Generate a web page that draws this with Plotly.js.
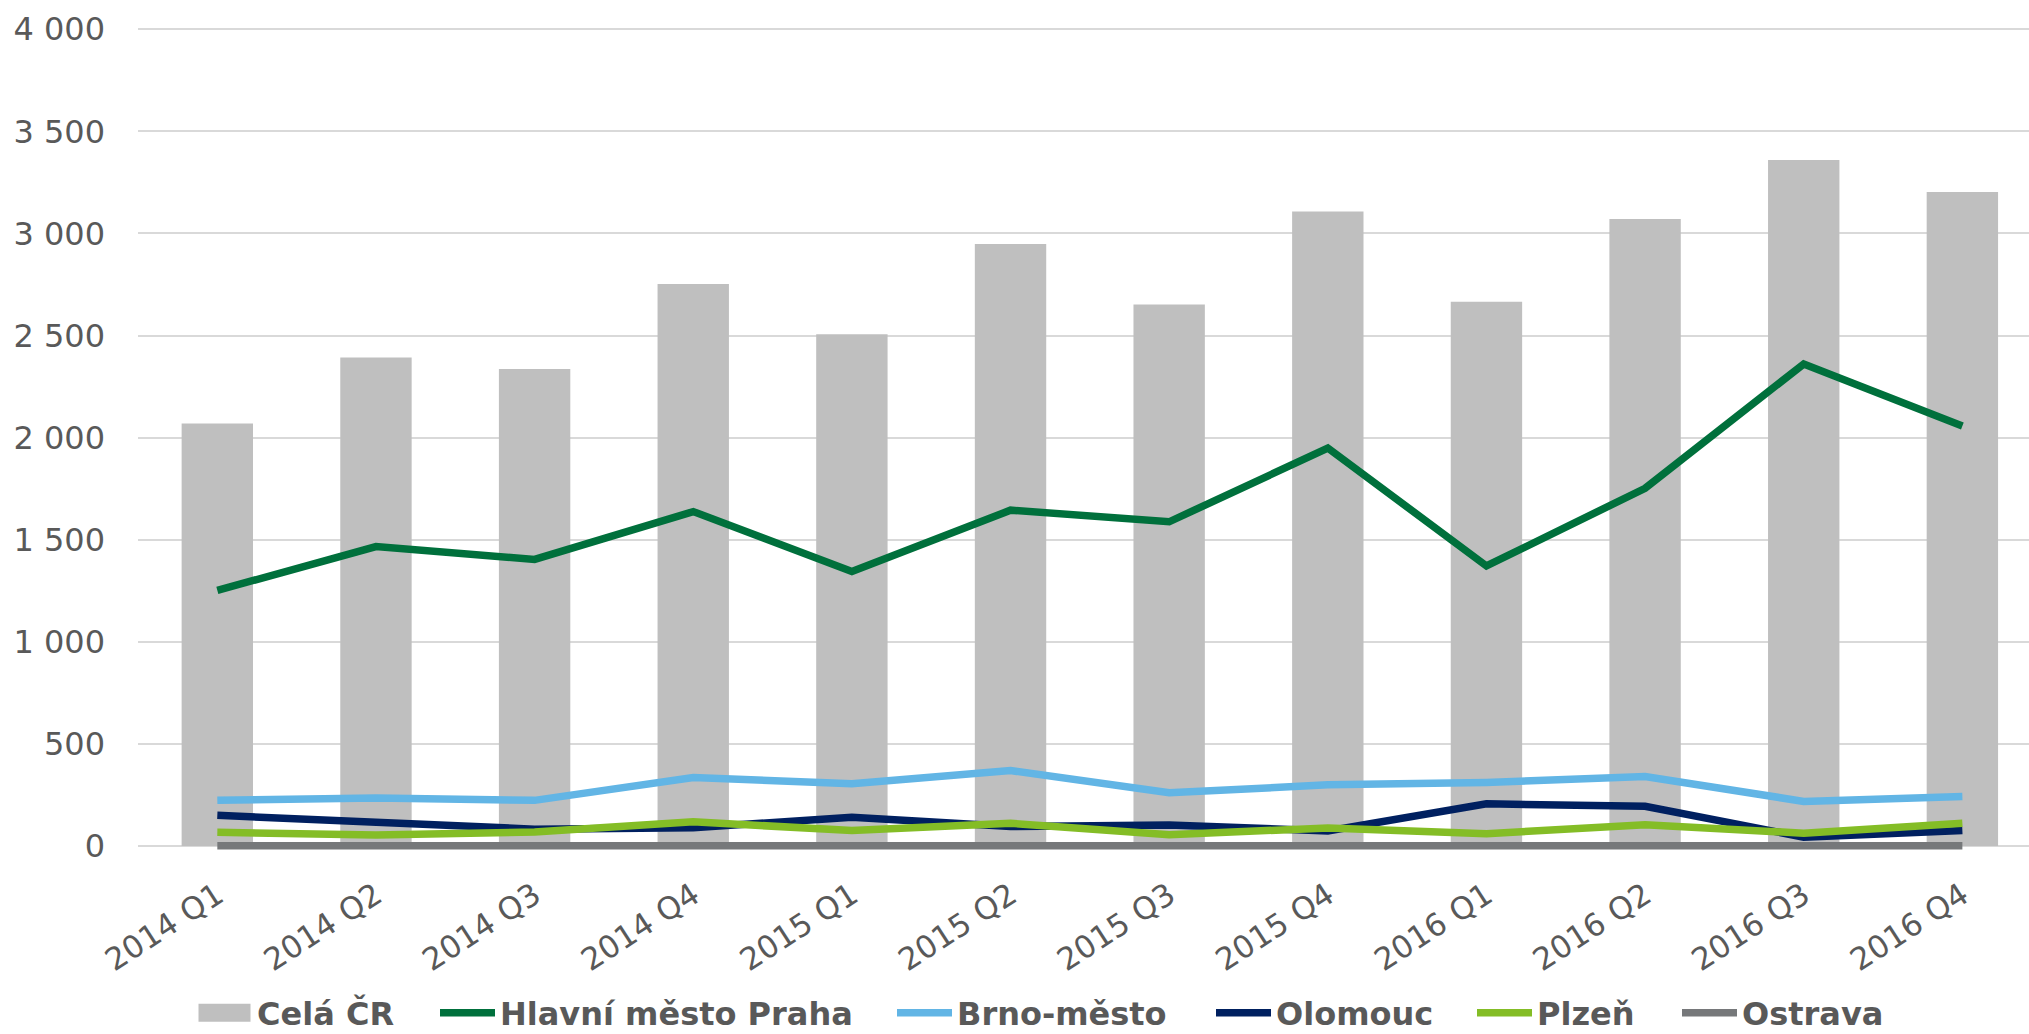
<!DOCTYPE html>
<html>
<head>
<meta charset="utf-8">
<script src="https://cdn.plot.ly/plotly-3.0.1.min.js"></script>
<style>
  html, body { margin: 0; padding: 0; background: #ffffff; }
  #chart { width: 2029px; height: 1034px; }
</style>
</head>
<body>
<div id="chart"></div>
<script>
// Quarterly counts, 2014–2016
const quarters = ['2014 Q1', '2014 Q2', '2014 Q3', '2014 Q4',
                  '2015 Q1', '2015 Q2', '2015 Q3', '2015 Q4',
                  '2016 Q1', '2016 Q2', '2016 Q3', '2016 Q4'];

const celaCR  = [2070, 2393, 2336, 2752, 2507, 2948, 2652, 3108, 2665, 3071, 3360, 3203];
const praha   = [1252, 1467, 1404, 1638, 1345, 1645, 1588, 1949, 1372, 1752, 2361, 2057];
const brno    = [ 224,  236,  224,  336,  306,  370,  261,  300,  312,  341,  219,  243];
const olomouc = [ 151,  117,   83,   90,  141,   96,  104,   74,  207,  195,   44,   77];
const plzen   = [  68,   54,   69,  119,   76,  112,   56,   89,   61,  105,   63,  112];
const ostrava = [   2,    2,    2,    2,    2,    2,    2,    2,    2,    2,    2,    2];

const seriesNames  = ['Celá ČR', 'Hlavní město Praha', 'Brno-město', 'Olomouc', 'Plzeň', 'Ostrava'];
const seriesColors = ['#BFBFBF', '#00703C', '#62B5E5', '#002060', '#84BD26', '#76787A'];

const FONT = 'DejaVu Sans, Verdana, sans-serif';
const TEXT = '#595959';

// Plot box in pixels, used to place the legend entries in paper units
const M = { l: 138, r: 0, t: 28, b: 184 };
const W = 2029, H = 1034;
const plotW = W - M.l - M.r;
const plotH = H - M.t - M.b;
const px2x = px => (px - M.l) / plotW;
const py2y = py => (H - M.b - py) / plotH;

// left edge of each legend entry along the bottom row
const legendLeft = [192, 435, 892, 1211, 1472, 1677];
const legendMidY = 1013;

const lineData = [praha, brno, olomouc, plzen, ostrava];
const legendIds = ['legend', 'legend2', 'legend3', 'legend4', 'legend5', 'legend6'];

const traces = [{
  type: 'bar',
  name: seriesNames[0],
  x: quarters,
  y: celaCR,
  marker: { color: seriesColors[0] },
  legend: legendIds[0],
  hoverinfo: 'skip'
}].concat(lineData.map((vals, i) => ({
  type: 'scatter',
  mode: 'lines',
  name: seriesNames[i + 1],
  x: quarters,
  y: vals,
  line: { color: seriesColors[i + 1], width: 7.5 },
  legend: legendIds[i + 1],
  hoverinfo: 'skip'
})));

const layout = {
  width: W,
  height: H,
  margin: { l: M.l, r: M.r, t: M.t, b: M.b, autoexpand: false },
  paper_bgcolor: '#ffffff',
  plot_bgcolor: '#ffffff',
  separators: ', ',
  bargap: 0.55,
  showlegend: true,
  font: { family: FONT, color: TEXT, size: 30 },
  xaxis: {
    type: 'category',
    range: [-0.5, 11.42],
    showgrid: false,
    zeroline: false,
    showline: false,
    ticks: 'outside',
    ticklen: 14,
    tickcolor: 'rgba(0,0,0,0)',
    tickangle: -33,
    automargin: false,
    tickfont: { family: FONT, size: 31, color: TEXT }
  },
  yaxis: {
    // a little room below zero keeps the full width of lines lying on the baseline
    range: [-19, 4006],
    tickvals: [0, 500, 1000, 1500, 2000, 2500, 3000, 3500, 4000],
    tickformat: ',d',
    separatethousands: true,
    showgrid: true,
    gridcolor: '#D9D9D9',
    gridwidth: 2,
    zeroline: false,
    showline: false,
    ticks: '',
    ticklabelstandoff: 32,
    automargin: false,
    tickfont: { family: FONT, size: 32, color: TEXT }
  }
};

legendIds.forEach((id, i) => {
  layout[id] = {
    orientation: 'h',
    x: px2x(legendLeft[i]),
    xanchor: 'left',
    y: py2y(legendMidY),
    yanchor: 'middle',
    itemwidth: 55,
    maxheight: 400,
    font: { family: FONT, size: 32, color: TEXT, weight: 'bold' },
    bgcolor: 'rgba(0,0,0,0)'
  };
});

const gd = document.getElementById('chart');
Plotly.newPlot(gd, traces, layout, { staticPlot: true, displayModeBar: false }).then(() => {
  // widen the bar swatch in the legend to a flat rectangle
  gd.querySelectorAll('g.legend .legendpoints path').forEach(p => {
    p.setAttribute('d', 'M-26,9H26V-9H-26Z');
  });
});
</script>
</body>
</html>
